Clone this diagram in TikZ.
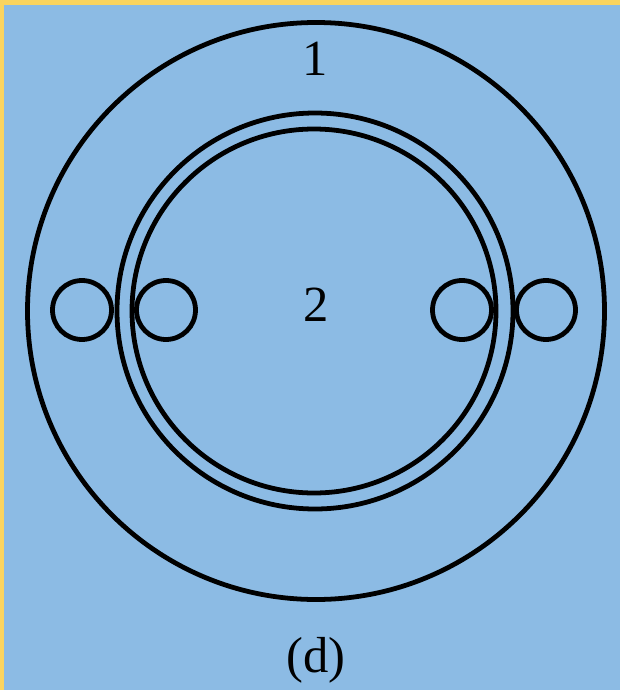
\documentclass[tikz,border=0pt]{standalone}
\usepackage{fontspec}
\setmainfont{Liberation Serif}
\definecolor{sky}{RGB}{140,187,228}
\definecolor{rim}{RGB}{250,212,95}
\tikzset{ring/.style={line width=3.4pt, black},
  lbl/.style={font=\fontsize{36}{40}\selectfont, inner sep=0pt}}

\begin{document}
\begin{tikzpicture}[x=0.025cm, y=-0.025cm]
  \fill[rim] (0,0) rectangle (620,690);
  \fill[sky] (4,5) rectangle (620,690);
  \useasboundingbox (0,0) rectangle (620,690);
  % outer ring and the double inner ring
  \draw[ring] (316,311) circle[radius=288.5];
  \draw[ring] (315,311) circle[radius=198];
  \draw[ring] (314,311) circle[radius=182];
  % small rollers
  \draw[ring] (82,310) circle[radius=29.5];
  \draw[ring] (166,310) circle[radius=29.5];
  \draw[ring] (462,310) circle[radius=29.5];
  \draw[ring] (546,310) circle[radius=29.5];
  \node[lbl] (one) at (315,59) {1};
  \node[lbl] (two) at (316,305) {2};
  \node[lbl] (cap) at (316,660) {(d)};
\end{tikzpicture}
\end{document}
